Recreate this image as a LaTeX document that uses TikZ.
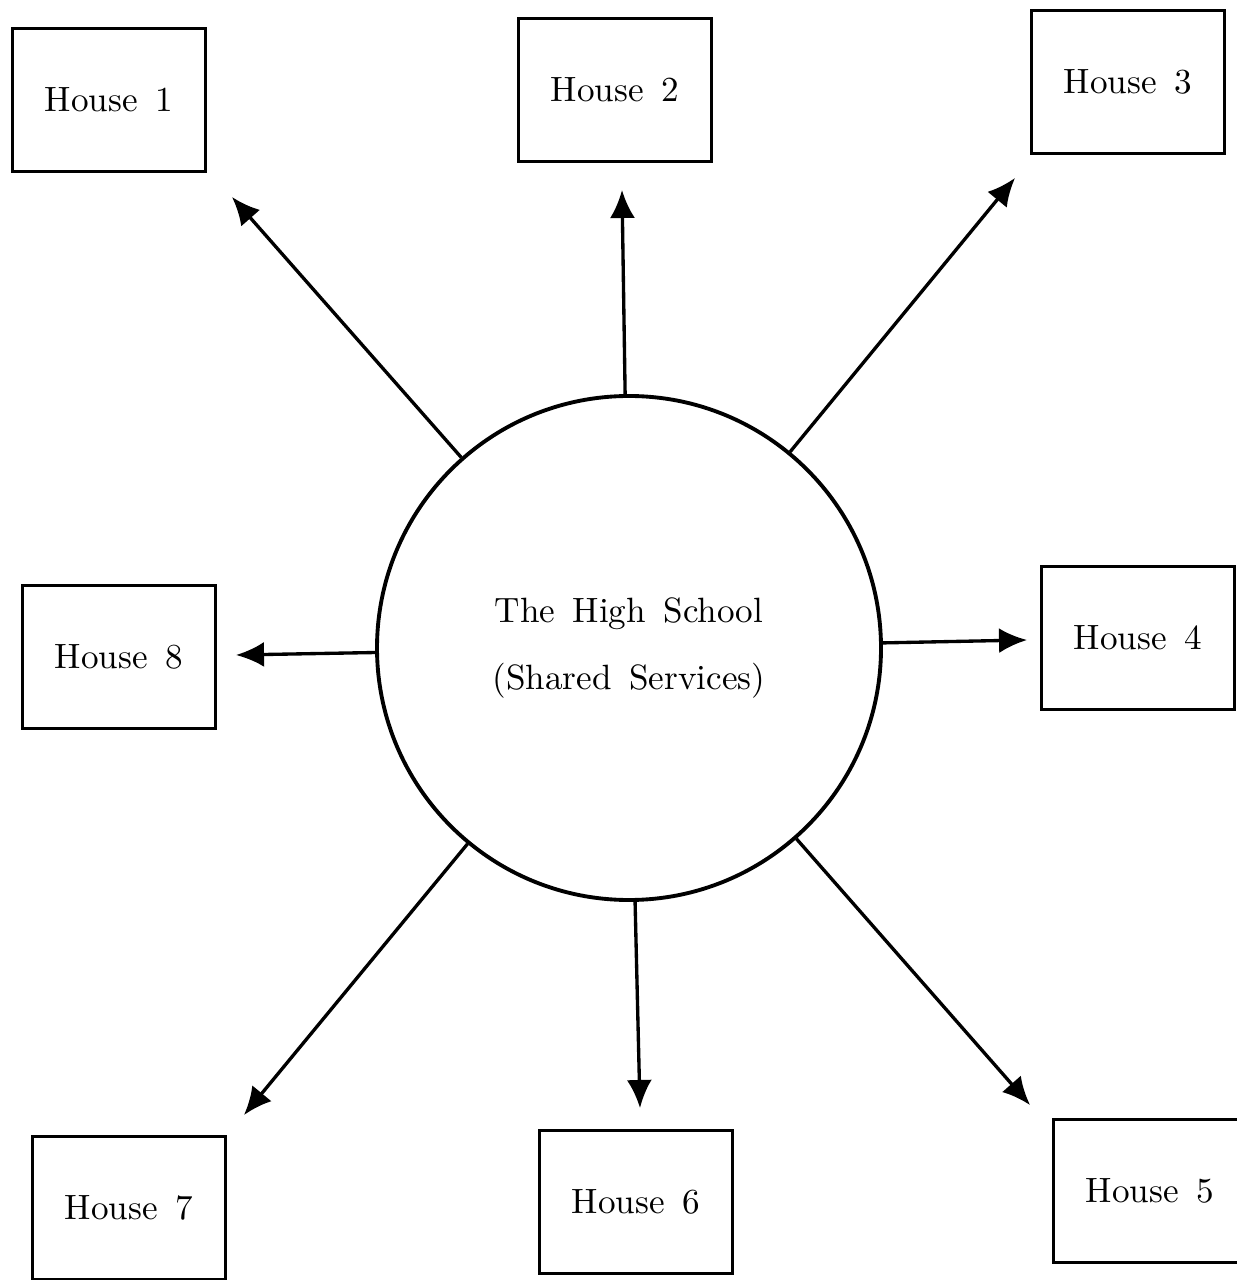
\documentclass[tikz,border=0pt]{standalone}
\usetikzlibrary{arrows.meta}

\tikzstyle{house} = [rectangle, minimum width=1.93cm, minimum height=1.43cm, text centered, draw=black, line width=0.9pt, font=\fontsize{10}{12}\selectfont]
\tikzstyle{school} = [circle, minimum size=5.04cm, draw=black, line width=1.1pt, align=center, font=\fontsize{10}{19}\selectfont]
\tikzstyle{arrow} = [line width=0.95pt, -{Latex[length=2.8mm, width=2.5mm]}]

\begin{document}
\begin{tikzpicture}
			\useasboundingbox (0,0) rectangle (12.36,-12.80);
			\node (school) [school] at (6.29,-6.48) {The\enspace High\enspace School\\(Shared\enspace Services)};
			\node (house1) [house] at (1.09,-1.00) {House\enspace 1};
			\node (house2) [house] at (6.15,-0.90) {House\enspace 2};
			\node (house3) [house] at (11.28,-0.82) {House\enspace 3};
			\node (house4) [house] at (11.38,-6.38) {House\enspace 4};
			\node (house5) [house] at (11.50,-11.91) {House\enspace 5};
			\node (house6) [house] at (6.36,-12.02) {House\enspace 6};
			\node (house7) [house] at (1.29,-12.08) {House\enspace 7};
			\node (house8) [house] at (1.19,-6.57) {House\enspace 8};
			
			\coordinate (tip1) at (2.32,-1.97);
			\coordinate (tip2) at (6.22,-1.90);
			\coordinate (tip3) at (10.15,-1.78);
			\coordinate (tip4) at (10.27,-6.40);
			\coordinate (tip5) at (10.30,-11.05);
			\coordinate (tip6) at (6.40,-11.08);
			\coordinate (tip7) at (2.44,-11.15);
			\coordinate (tip8) at (2.36,-6.55);
			
			\draw [arrow] (school) -- (tip1);
			\draw [arrow] (school) -- (tip2);
			\draw [arrow] (school) -- (tip3);
			\draw [arrow] (school) -- (tip4);
			\draw [arrow] (school) -- (tip5);
			\draw [arrow] (school) -- (tip6);
			\draw [arrow] (school) -- (tip7);
			\draw [arrow] (school) -- (tip8);
			
		\end{tikzpicture}
\end{document}
